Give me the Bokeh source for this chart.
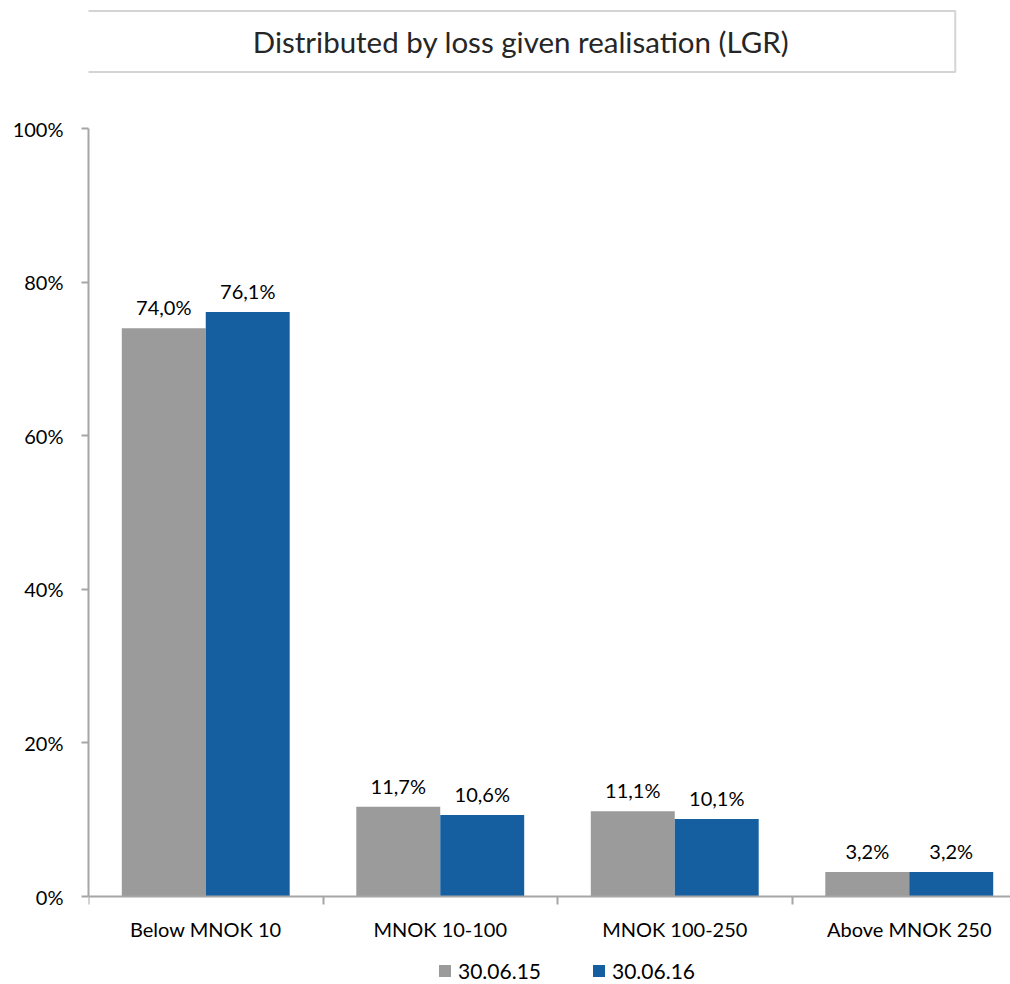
import numpy as np
from bokeh.plotting import figure
from bokeh.models import (Range1d, FixedTicker, Legend, LegendItem, Label,
                          ColumnDataSource)
from bokeh.core.properties import value
from bokeh.embed import file_html
from bokeh.resources import INLINE

# ---- data ----
categories = ["Below MNOK 10", "MNOK 10-100", "MNOK 100-250", "Above MNOK 250"]
series_names = ["30.06.15", "30.06.16"]
values_2015 = [74.0, 11.7, 11.1, 3.2]
values_2016 = [76.1, 10.6, 10.1, 3.2]
y_ticks = [0, 20, 40, 60, 80, 100]
title_text = "Distributed by loss given realisation (LGR)"

GRAY = "#9b9b9b"
BLUE = "#155fa0"
FONT = "Lato"
AXC = "#a6a6a6"

FW, FH = 922, 984           # frame covers title area, plot and legend area
PX_PER_PCT = 7.68
ZERO_FROM_TOP = 896         # pixel row of the 0% line
Y_TOP = ZERO_FROM_TOP / PX_PER_PCT
Y_BOT = Y_TOP - FH / PX_PER_PCT

p = figure(frame_width=FW, frame_height=FH, output_backend="svg", toolbar_location=None,
           x_range=Range1d(0, FW / 234.5), y_range=Range1d(Y_BOT, Y_TOP),
           min_border_left=88, min_border_top=0, min_border_right=0,
           min_border_bottom=0)
p.outline_line_color = None
p.xgrid.grid_line_color = None
p.ygrid.grid_line_color = None
p.background_fill_color = "white"
p.border_fill_color = "white"

idx = np.arange(len(categories))
bw = 0.358
off = 0.179
fmt = lambda v: f"{v:.1f}".replace(".", ",") + "%"
src1 = ColumnDataSource(dict(x=idx + 0.5 - off, top=values_2015,
                             lab=[fmt(v) for v in values_2015]))
src2 = ColumnDataSource(dict(x=idx + 0.5 + off, top=values_2016,
                             lab=[fmt(v) for v in values_2016]))
r1 = p.vbar(x="x", top="top", bottom=0, width=bw, source=src1, fill_color=GRAY, line_color=None)
r2 = p.vbar(x="x", top="top", bottom=0, width=bw, source=src2, fill_color=BLUE, line_color=None)

for s in (src1, src2):
    p.text(x="x", y="top", text="lab", source=s, text_align="center",
           text_baseline="bottom", y_offset=-9, text_font_size="20px",
           text_color="#000000", text_font=value(FONT))

# axes
xa = p.xaxis[0]
xa.fixed_location = 0
xa.ticker = FixedTicker(ticks=list(idx + 0.5), minor_ticks=list(range(len(categories) + 1)))
xa.major_label_overrides = {float(i + 0.5): c for i, c in enumerate(categories)}
xa.major_tick_line_color = None
xa.minor_tick_line_color = AXC
xa.minor_tick_line_width = 2
xa.minor_tick_out = 8
xa.minor_tick_in = 0
xa.axis_line_color = AXC
xa.axis_line_width = 2
xa.major_label_text_font = FONT
xa.major_label_text_font_size = "20px"
xa.major_label_text_color = "#000000"
xa.major_label_standoff = 12

ya = p.yaxis[0]
ya.ticker = FixedTicker(ticks=y_ticks)
ya.bounds = (0, 100)
ya.major_label_overrides = {t: f"{t}%" for t in y_ticks}
ya.minor_tick_line_color = None
ya.major_tick_line_color = AXC
ya.major_tick_line_width = 2
ya.major_tick_out = 7
ya.major_tick_in = 0
ya.axis_line_color = AXC
ya.axis_line_width = 2
ya.major_label_text_font = FONT
ya.major_label_text_font_size = "20px"
ya.major_label_text_color = "#000000"
ya.major_label_standoff = 18

legend = Legend(items=[LegendItem(label=series_names[0], renderers=[r1]),
                       LegendItem(label=series_names[1], renderers=[r2])],
                orientation="horizontal", location=(349, 1),
                label_text_font=FONT, label_text_font_size="21px",
                label_text_color="#000000", glyph_width=15, glyph_height=15,
                spacing=50, padding=0, margin=0, border_line_color=None,
                background_fill_alpha=0,
                label_standoff=6, label_height=22)
p.add_layout(legend)

# title box (inside the frame, above the 100% line)
title = Label(x=(520.5 - 88) / 234.5, y=(ZERO_FROM_TOP - 41) / PX_PER_PCT, text=title_text,
              text_align="center", text_baseline="middle", text_font=FONT,
              text_font_size="29.5px", text_color="#262626",
              border_line_color="#d4d4d4", border_line_width=2,
              background_fill_color="white", padding=(166, 13))
p.add_layout(title)

open("out.html", "w").write(file_html(p, INLINE))
